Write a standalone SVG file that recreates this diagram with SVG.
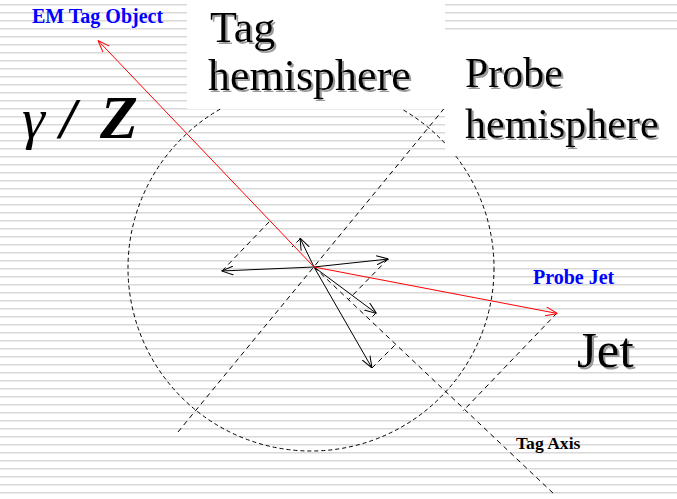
<svg xmlns="http://www.w3.org/2000/svg" width="677" height="499" viewBox="0 0 677 499">
<defs>
<pattern id="stripes" patternUnits="userSpaceOnUse" x="0" y="0" width="677" height="8">
<rect x="0" y="0" width="677" height="8" fill="#ffffff"/>
<rect x="0" y="4" width="677" height="1" fill="#d9d9d9"/>
<rect x="0" y="5" width="677" height="1" fill="#ebebeb"/>
</pattern>
<marker id="ahk" viewBox="0 0 12 10" refX="12" refY="5" markerWidth="12" markerHeight="10" orient="auto" markerUnits="userSpaceOnUse">
<path d="M0,0.5 L12,5 L0,9.5" fill="none" stroke="#000"/>
</marker>
<marker id="ahr" viewBox="0 0 12 10" refX="12" refY="5" markerWidth="12" markerHeight="10" orient="auto" markerUnits="userSpaceOnUse">
<path d="M0,0.5 L12,5 L0,9.5" fill="none" stroke="#ff0000"/>
</marker>
<filter id="shadow" x="-10%" y="-20%" width="130%" height="150%">
<feDropShadow dx="2" dy="2" stdDeviation="0.6" flood-color="#9a9a9a" flood-opacity="1"/>
</filter>
</defs>
<style>
.dash{fill:none;stroke:#000;stroke-width:1;stroke-dasharray:5 4}
.circ{fill:none;stroke:#000;stroke-width:1;stroke-dasharray:4 3}
.vec{stroke:#000;stroke-width:1;fill:none;marker-end:url(#ahk)}
.red{stroke:#ff0000;stroke-width:1;fill:none;marker-end:url(#ahr)}
.big{font-family:"Liberation Serif","Times New Roman",serif;fill:#000}
.shd{filter:url(#shadow)}
.blue{font-family:"Liberation Serif","Times New Roman",serif;font-weight:bold;fill:#0000ff;font-size:20px}
.box{fill:#ffffff}
</style>
<rect x="0" y="0" width="677" height="499" fill="url(#stripes)"/>

<g id="connectors">
<circle class="circ" cx="311" cy="268" r="183"/>
<line class="dash" x1="178" y1="432" x2="447" y2="105"/>
<line class="dash" x1="314" y1="267" x2="555" y2="495"/>
<line class="dash" x1="222" y1="271" x2="269" y2="222"/>
<line class="dash" x1="300" y1="239" x2="292" y2="247"/>
<line class="dash" x1="388" y1="259" x2="348" y2="300"/>
<line class="dash" x1="376" y1="313" x2="369" y2="320"/>
<line class="dash" x1="372" y1="368" x2="395" y2="345"/>
<line class="dash" x1="557" y1="313" x2="463" y2="411"/>
<line class="vec" x1="314" y1="267" x2="300" y2="238"/>
<line class="vec" x1="314" y1="267" x2="221.5" y2="271"/>
<line class="vec" x1="314" y1="267" x2="388.5" y2="259"/>
<line class="vec" x1="314" y1="267" x2="376.5" y2="313.5"/>
<line class="vec" x1="314" y1="267" x2="372" y2="368"/>
<line class="red" x1="314" y1="267" x2="98" y2="40.5"/>
<line class="red" x1="314" y1="267" x2="557.5" y2="313.5"/>
</g>

<g id="tag-hemisphere">
<rect class="box" x="187" y="0" width="258" height="109"/>
<text class="big shd" font-size="44" x="210" y="42">Tag</text>
<text class="big shd" font-size="44" x="208" y="90">hemisphere</text>
</g>

<g id="probe-hemisphere">
<rect class="box" x="445" y="33" width="232" height="122"/>
<text class="big shd" font-size="42" x="465" y="87">Probe</text>
<text class="big shd" font-size="42" x="465" y="138">hemisphere</text>
</g>

<g id="em-tag-object">
<text class="blue" x="32" y="23">EM Tag Object</text>
</g>

<g id="gamma-z">
<text class="big" font-size="58" y="138"><tspan x="22" font-style="italic">γ</tspan><tspan x="60" font-weight="bold" font-style="italic">/</tspan><tspan x="100" font-size="62" font-weight="bold" font-style="italic">Z</tspan></text>
</g>

<g id="probe-jet">
<text class="blue" x="533" y="284">Probe Jet</text>
</g>

<g id="jet">
<text class="big shd" font-size="51" x="577" y="367">Jet</text>
</g>

<g id="tag-axis">
<text class="big" font-size="17.6" font-weight="bold" x="516" y="449">Tag Axis</text>
</g>
</svg>
